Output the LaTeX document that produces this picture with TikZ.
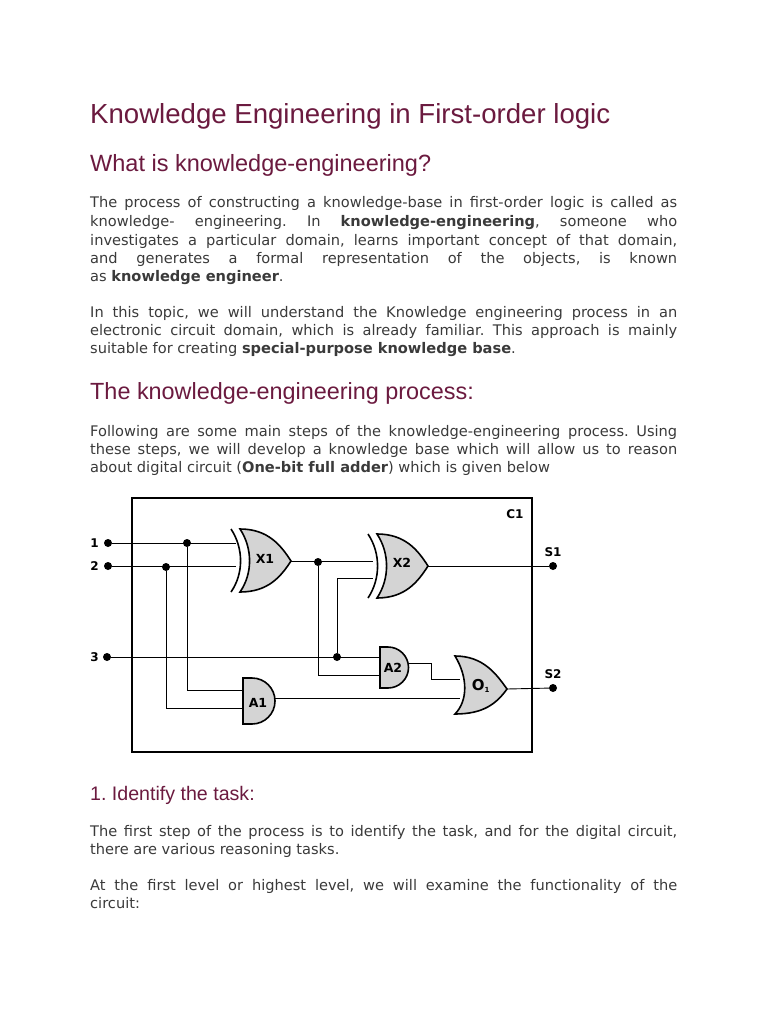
\documentclass[tikz,border=0pt]{standalone}
\usepackage{fontspec}
\setmainfont{DejaVu Sans}
\newfontfamily\headf{Liberation Sans}
\newfontfamily\gatef{DejaVu Sans}
\definecolor{head}{HTML}{6B1A3F}
\definecolor{body}{HTML}{3A3A3A}
\definecolor{gate}{HTML}{D4D4D4}
\frenchspacing
\newcommand\jl[1]{\makebox[587pt][s]{#1}}
\newcommand\orpath[5]{% L T yt yb yc
  (#1,#3) .. controls ({#1+0.55*(#2-#1)},#3) and ({#2-0.2*(#2-#1)},{#5-0.25*(#4-#3)}) .. (#2,#5)
  .. controls ({#2-0.2*(#2-#1)},{#5+0.25*(#4-#3)}) and ({#1+0.55*(#2-#1)},#4) .. (#1,#4)
  .. controls ({#1+0.25*(#2-#1)},{#5+0.2*(#4-#3)}) and ({#1+0.25*(#2-#1)},{#5-0.2*(#4-#3)}) .. (#1,#3) -- cycle}
\newcommand\xback[5]{%
  \draw[gateline,fill=none] ({#1-9},#3) .. controls ({#1-9+0.25*(#2-#1)},{#5-0.2*(#4-#3)}) and ({#1-9+0.25*(#2-#1)},{#5+0.2*(#4-#3)}) .. ({#1-9},#4);}
\begin{document}
\begin{tikzpicture}[x=1pt,y=-1pt,
  txt/.style={anchor=base west,inner sep=0pt,text=body,font=\fontsize{14.6}{18}\selectfont},
  hd/.style={anchor=base west,inner sep=0pt,text=head,font=\headf},
  gateline/.style={line width=1.6pt,black},
  wire/.style={line width=0.9pt,black},
  dot/.style={circle,fill=black,inner sep=0pt,minimum size=8pt},
  gl/.style={font=\gatef\bfseries\fontsize{12.5}{14}\selectfont,inner sep=0pt},
  pl/.style={font=\gatef\bfseries\fontsize{12}{14}\selectfont,inner sep=0pt}]
\useasboundingbox (0,0) rectangle (768,1024);
\fill[white] (0,0) rectangle (768,1024);
\node[hd,font=\headf\fontsize{27.6}{30}\selectfont] (t) at (90,124) {Knowledge Engineering in First-order logic};
\node[hd,font=\headf\fontsize{23.5}{26}\selectfont] (h1) at (90,172) {What is knowledge-engineering?};
\node[txt] (p1a) at (90,208) {\jl{The process of constructing a knowledge-base in first-order logic is called as}};
\node[txt] (p1b) at (90,226) {\jl{knowledge- engineering. In \textbf{knowledge-engineering}, someone who}};
\node[txt] (p1c) at (90,245) {\jl{investigates a particular domain, learns important concept of that domain,}};
\node[txt] (p1d) at (90,263) {\jl{and generates a formal representation of the objects, is known}};
\node[txt] (p1e) at (90,281) {as \textbf{knowledge engineer}.};
\node[txt] (p2a) at (90,317) {\jl{In this topic, we will understand the Knowledge engineering process in an}};
\node[txt] (p2b) at (90,335) {\jl{electronic circuit domain, which is already familiar. This approach is mainly}};
\node[txt] (p2c) at (90,353) {suitable for creating \textbf{special-purpose knowledge base}.};
\node[hd,font=\headf\fontsize{23.4}{26}\selectfont] (h2) at (90,399) {The knowledge-engineering process:};
\node[txt] (p3a) at (90,436) {\jl{Following are some main steps of the knowledge-engineering process. Using}};
\node[txt] (p3b) at (90,454) {\jl{these steps, we will develop a knowledge base which will allow us to reason}};
\node[txt] (p3c) at (90,472) {about digital circuit (\textbf{One-bit full adder}) which is given below};
\node[hd,font=\headf\fontsize{19.6}{22}\selectfont] (h3) at (90,800) {1. Identify the task:};
\node[txt] (p4a) at (90,836) {\jl{The first step of the process is to identify the task, and for the digital circuit,}};
\node[txt] (p4b) at (90,854) {there are various reasoning tasks.};
\node[txt] (p5a) at (90,890) {\jl{At the first level or highest level, we will examine the functionality of the}};
\node[txt] (p5b) at (90,908) {circuit:};
% circuit
\draw[line width=1.5pt] (132,498) rectangle (532,752);
\node[pl] (c1) at (515,514) {C1};
% gates
\filldraw[gateline,fill=gate] \orpath{240}{291}{529}{592}{561};
\xback{240}{291}{529}{592}{561}
\filldraw[gateline,fill=gate] \orpath{377}{428}{534}{598}{566};
\xback{377}{428}{534}{598}{566}
\filldraw[gateline,fill=gate] \orpath{455}{507}{656}{714}{689};
\filldraw[gateline,fill=gate] (380,647) -- (388,647) arc[start angle=-90,end angle=90,radius=20.5] -- (380,688) -- cycle;
\filldraw[gateline,fill=gate] (243,678) -- (252,678) arc[start angle=-90,end angle=90,radius=23] -- (243,724) -- cycle;
\node[gl] (x1) at (265,559) {X1};
\node[gl] (x2) at (402,563) {X2};
\node[gl] (a2) at (393,668) {A2};
\node[gl] (a1) at (258,703) {A1};
\node[gl,font=\gatef\bfseries\fontsize{15}{16}\selectfont] (o1) at (481,686) {O\textsubscript{\scriptsize 1}};
% ports
\node[dot] (i1) at (108,543) {}; \node[pl,anchor=east] at (99,543) {1};
\node[dot] (i2) at (108,566) {}; \node[pl,anchor=east] at (99,566) {2};
\node[dot] (i3) at (107,657) {}; \node[pl,anchor=east] at (99,657) {3};
\node[dot] (s1) at (553,566) {}; \node[pl] at (553,552) {S1};
\node[dot] (s2) at (553,688) {}; \node[pl] at (553,674) {S2};
\node[dot] (j1) at (187,543) {};
\node[dot] (j2) at (166,567) {};
\node[dot] (j3) at (318,562) {};
\node[dot] (j4) at (337,657) {};
\coordinate (x1a) at (236,543); \coordinate (x1b) at (236,566);
\coordinate (x1o) at (291,561);
\coordinate (x2a) at (373,561); \coordinate (x2b) at (373,578);
\coordinate (x2o) at (428,566);
\coordinate (a2a) at (380,657); \coordinate (a2b) at (380,675);
\coordinate (a2o) at (408,663);
\coordinate (a1a) at (243,690); \coordinate (a1b) at (243,708);
\coordinate (a1o) at (275,698);
\coordinate (o1a) at (460,679); \coordinate (o1b) at (460,698);
\coordinate (o1o) at (507,689);
% wires
\draw[wire] (i1) -- (x1a);
\draw[wire] (i2) -- (x1b);
\draw[wire] (j1) |- (a1a);
\draw[wire] (j2) |- (a1b);
\draw[wire] (x1o) -- (x2a);
\draw[wire] (j3) |- (a2b);
\draw[wire] (i3) -- (a2a);
\draw[wire] (j4) |- (x2b);
\draw[wire] (x2o) -- (s1);
\draw[wire] (a2o) -- (431,663) |- (o1a);
\draw[wire] (a1o) -- (o1b);
\draw[wire] (o1o) -- (s2);
\end{tikzpicture}
\end{document}
